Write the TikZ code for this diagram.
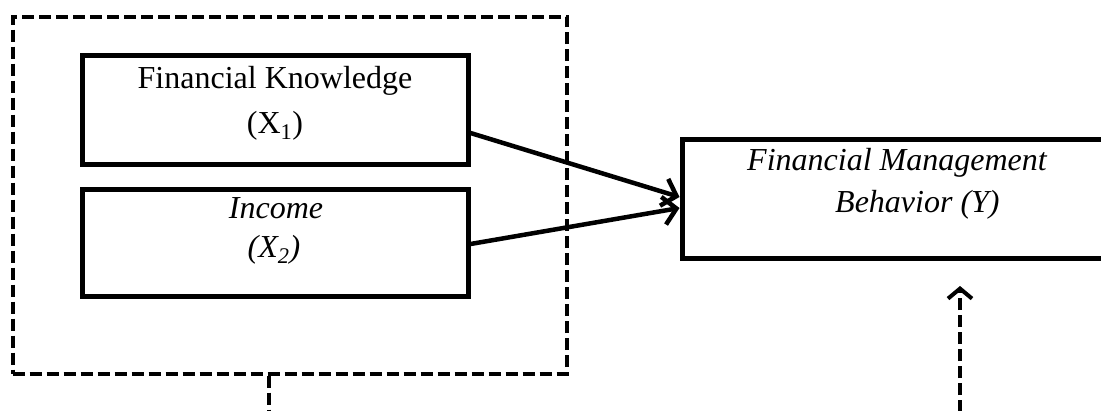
\documentclass[tikz,border=0pt]{standalone}
\usepackage{fontspec}
\setmainfont{Liberation Serif}
\usetikzlibrary{arrows.meta}

\tikzset{
  varbox/.style={draw=black, line width=5pt, rectangle, inner sep=0pt},
  groupbox/.style={draw=black, line width=4pt, dash pattern=on 12pt off 5pt, rectangle, inner sep=0pt},
  dashline/.style={draw=black, line width=4pt, dash pattern=on 12pt off 5pt},
  link/.style={draw=black, line width=4.5pt, -{Straight Barb[length=13pt,width=28pt,line width=4.5pt]}},
  dlink/.style={dashline, -{Straight Barb[length=10pt,width=24pt,line width=4pt]}},
  txt/.style={anchor=base, inner sep=0pt, font=\fontsize{32}{38}\selectfont},
}

\begin{document}
\begin{tikzpicture}[x=1pt, y=-1pt]
  \useasboundingbox (0,0) rectangle (1101,410);
  \clip (0,0) rectangle (1101,410);

  % grouping frame around the independent variables
  \node[groupbox, minimum width=554.5pt, minimum height=357pt] (group) at (289.75,195) {};

  % independent variables
  \node[varbox, minimum width=386pt, minimum height=109pt] (x1) at (275,109.5) {};
  \node[varbox, minimum width=386pt, minimum height=107pt] (x2) at (275,242.5) {};

  % dependent variable
  \node[varbox, minimum width=458pt, minimum height=119pt] (y) at (911,198.5) {};

  % labels
  \node[txt] (x1a) at (275,88) {Financial Knowledge};
  \node[txt] (x1b) at (275,133) {(X\textsubscript{1})};
  \node[txt] (x2a) at (276,218) {\itshape Income};
  \node[txt] (x2b) at (274,257) {\itshape (X\textsubscript{2})};
  \node[txt, anchor=base west] (ya) at (747,170) {\itshape Financial Management};
  \node[txt, anchor=base west] (yb) at (835,212) {\itshape Behavior (Y)};

  % paths
  \draw[link] ([yshift=-23.5pt]x1.east) -- ([yshift=1.5pt]y.west);
  \draw[link] ([yshift=-1.5pt]x2.east) -- ([yshift=-9.5pt]y.west);

  % dashed continuations at the bottom
  \coordinate (gdrop) at (269,412);
  \draw[dashline] (group.south -| gdrop) -- (gdrop);
  \coordinate (mstart) at (960,412);
  \coordinate (mtip) at (960,286);
  \draw[dlink] (mstart) -- (mtip);
\end{tikzpicture}
\end{document}
